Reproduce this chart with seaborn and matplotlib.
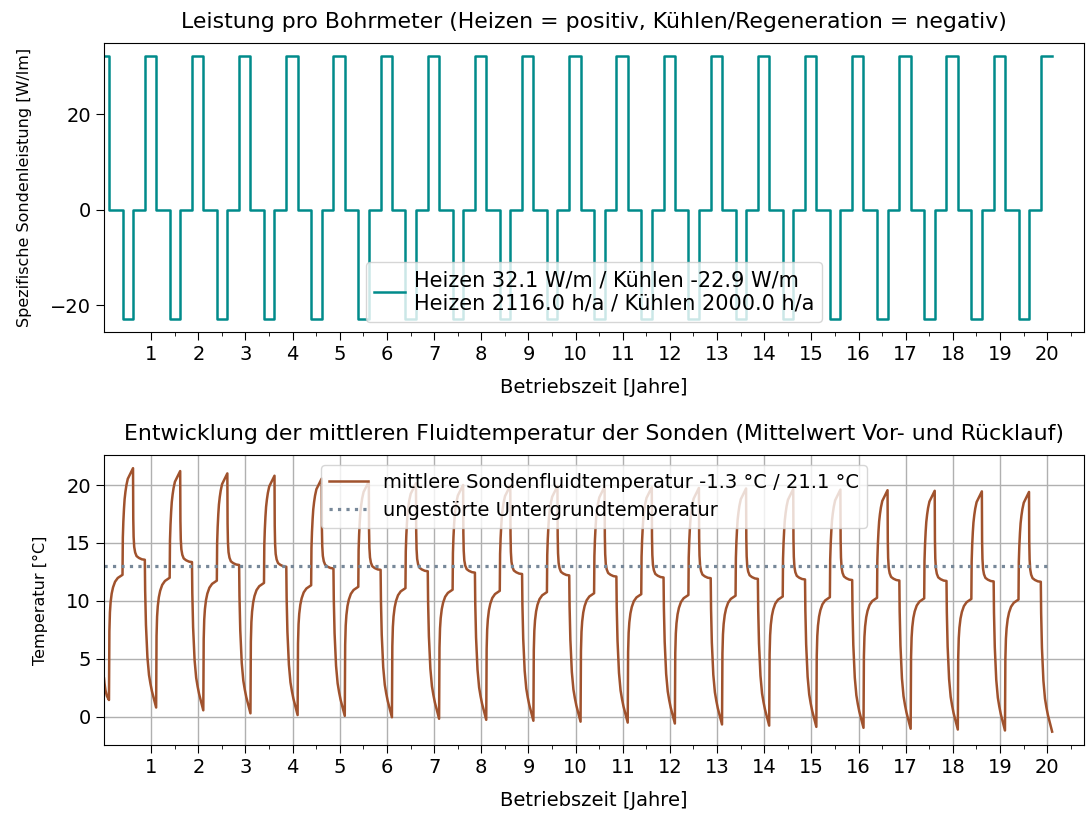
import numpy as np
import matplotlib
matplotlib.use("Agg")
import matplotlib.pyplot as plt
import seaborn as sns

# --- Daten ---

n_years = 20

# Lastprofil innerhalb eines Jahres (Anteil am Jahr)
heat_end = 0.105
cool_start = 0.392
cool_end = 0.615
heat_start = 0.865
t_stop = n_years + heat_end

q_heat = 32.1    # W/m
q_cool = -22.9   # W/m

t_ground = 13.0  # ungestoerte Untergrundtemperatur

# Minimum am Ende jeder Heizperiode (Jahr 0..20)
t_min = [1.45, 0.8, 0.56, 0.3, 0.15, 0.08, -0.04, -0.17, -0.26, -0.34, -0.42,
         -0.5, -0.58, -0.66, -0.76, -0.87, -0.95, -1.03, -1.1, -1.18, -1.28]
# Plateau vor Beginn der Kuehlung
t_p1 = [12.25, 12.0, 11.75, 11.55, 11.35, 11.22, 11.1, 10.97, 10.87, 10.76,
        10.66, 10.58, 10.51, 10.45, 10.38, 10.32, 10.27, 10.22, 10.17, 10.12]
# Maximum am Ende der Kuehlperiode
t_max = [21.45, 21.2, 21.0, 20.8, 20.55, 20.3, 20.15, 20.0, 19.95, 19.9,
         19.85, 19.8, 19.75, 19.7, 19.65, 19.6, 19.55, 19.5, 19.45, 19.4]
# Plateau vor Beginn der Heizperiode
t_p2 = [13.55, 13.35, 13.1, 12.95, 12.8, 12.68, 12.56, 12.44, 12.32, 12.2,
        12.1, 12.02, 11.96, 11.9, 11.85, 11.8, 11.76, 11.72, 11.68, 11.65]

# Verlauf zu Beginn (erste Heizperiode)
start_x = [0.0, 0.01, 0.03, 0.06]
start_T = [3.3, 2.9, 2.3, 1.8]

# Form der einzelnen Phasen (Zeitanteil / Anteil der Aenderung)
heat_tf = [0, 0.03, 0.1, 0.23, 0.37, 0.5, 0.63, 0.8, 0.93, 1.0]
heat_cf = [0, 0.21, 0.44, 0.66, 0.78, 0.84, 0.89, 0.94, 0.98, 1.0]
rest1_tf = [0, 0.03, 0.07, 0.12, 0.2, 0.3, 0.45, 0.65, 1.0]
rest1_cf = [0, 0.55, 0.7, 0.78, 0.85, 0.9, 0.945, 0.975, 1.0]
cool_tf = [0, 0.03, 0.08, 0.14, 0.2, 0.28, 0.37, 0.5, 0.7, 0.85, 1.0]
cool_cf = [0, 0.35, 0.5, 0.62, 0.71, 0.78, 0.84, 0.9, 0.94, 0.97, 1.0]
rest2_tf = [0, 0.02, 0.05, 0.1, 0.18, 0.3, 0.5, 0.75, 1.0]
rest2_cf = [0, 0.55, 0.75, 0.86, 0.92, 0.96, 0.98, 0.995, 1.0]


def add_phase(xs, ys, t0, t1, a, b, tf, cf):
    for f, c in zip(tf[1:], cf[1:]):
        xs.append(t0 + f * (t1 - t0))
        ys.append(a + c * (b - a))


# Leistung (Treppenfunktion)
q_x = [0.0]
q_y = [q_heat]
for k in range(n_years):
    q_x += [k + heat_end, k + cool_start, k + cool_end, k + heat_start]
    q_y += [0.0, q_cool, 0.0, q_heat]
q_x.append(t_stop)
q_y.append(q_heat)

# Fluidtemperatur
T_x = list(start_x)
T_y = list(start_T)
T_x.append(heat_end)
T_y.append(t_min[0])
for k in range(n_years):
    add_phase(T_x, T_y, k + heat_end, k + cool_start, t_min[k], t_p1[k], rest1_tf, rest1_cf)
    add_phase(T_x, T_y, k + cool_start, k + cool_end, t_p1[k], t_max[k], cool_tf, cool_cf)
    add_phase(T_x, T_y, k + cool_end, k + heat_start, t_max[k], t_p2[k], rest2_tf, rest2_cf)
    add_phase(T_x, T_y, k + heat_start, k + 1 + heat_end, t_p2[k], t_min[k + 1], heat_tf, heat_cf)

# --- Plot ---
fig = plt.figure(figsize=(10.87, 8.14), dpi=100)
left, width = 0.0957, 0.9015
ax1 = fig.add_axes([left, 0.592, width, 0.355])
ax2 = fig.add_axes([left, 0.085, width, 0.356])

sns.lineplot(x=q_x, y=q_y, ax=ax1, drawstyle="steps-post", estimator=None,
             color="darkcyan", lw=1.8,
             label="Heizen 32.1 W/m / Kühlen -22.9 W/m\nHeizen 2116.0 h/a / Kühlen 2000.0 h/a")
ax1.set_title("Leistung pro Bohrmeter (Heizen = positiv, Kühlen/Regeneration = negativ)",
              fontsize=15.8, pad=11)
ax1.set_ylabel("Spezifische Sondenleistung [W/lm]", fontsize=11.5, labelpad=13)
ax1.set_xlabel("Betriebszeit [Jahre]", fontsize=14, labelpad=10)
ax1.set_yticks([-20, 0, 20])
ax1.legend(loc="lower center", fontsize=15, handlelength=1.5, handletextpad=0.4)

sns.lineplot(x=T_x, y=T_y, ax=ax2, estimator=None, color="sienna", lw=1.8,
             label="mittlere Sondenfluidtemperatur -1.3 °C / 21.1 °C")
sns.lineplot(x=[0.0, t_stop], y=[t_ground, t_ground], ax=ax2, estimator=None,
             color="lightslategray", lw=2.3, linestyle=":",
             label="ungestörte Untergrundtemperatur")
ax2.set_title("Entwicklung der mittleren Fluidtemperatur der Sonden (Mittelwert Vor- und Rücklauf)",
              fontsize=15.8, pad=11)
ax2.set_ylabel("Temperatur [°C]", fontsize=11.5, labelpad=13)
ax2.set_xlabel("Betriebszeit [Jahre]", fontsize=14, labelpad=10)
ax2.set_yticks([0, 5, 10, 15, 20])
ax2.grid(True, color="#b0b0b0", lw=1.0)
ax2.legend(loc="upper center", fontsize=14)

for ax in (ax1, ax2):
    ax.set_xlim(0, 20.78)
    ax.set_xticks(np.arange(1, 21))
    ax.set_xticks(np.arange(1.5, 21, 1), minor=True)
    ax.tick_params(axis="both", which="major", labelsize=14, length=6)
    ax.tick_params(axis="x", which="minor", length=3)

fig.savefig("out.png", dpi=100)
